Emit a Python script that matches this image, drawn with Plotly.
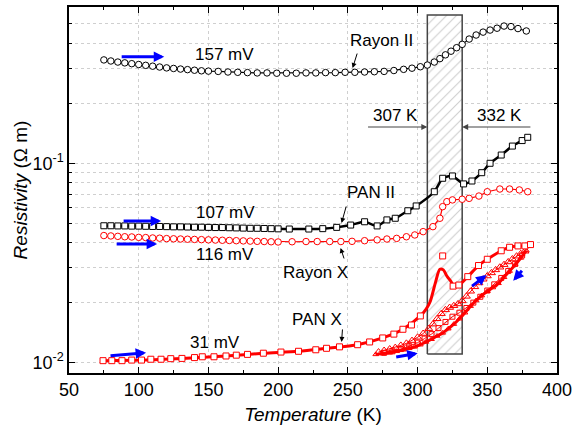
import plotly.graph_objects as go

# ---------------- data ----------------
rayon2_T = [75, 80, 85, 90, 95, 100, 105, 110, 115, 120, 125, 130, 135, 140, 145, 150, 157, 164, 171, 178,
            185, 192, 199, 206, 213, 220, 227, 234, 241, 248, 255, 262, 269, 276, 283, 290, 296, 302, 307,
            312, 316, 320, 324, 328, 332, 337, 342, 347, 352, 357, 362, 367, 372, 378]
rayon2_v = [0.330, 0.326, 0.322, 0.319, 0.316, 0.313, 0.310, 0.307, 0.304, 0.301, 0.299, 0.297, 0.295, 0.293,
            0.291, 0.290, 0.289, 0.287, 0.286, 0.285, 0.284, 0.284, 0.283, 0.283, 0.283, 0.284, 0.284, 0.285,
            0.285, 0.286, 0.286, 0.287, 0.288, 0.289, 0.292, 0.296, 0.300, 0.305, 0.311, 0.322, 0.335, 0.350,
            0.365, 0.380, 0.395, 0.420, 0.440, 0.455, 0.466, 0.476, 0.488, 0.485, 0.474, 0.461]

pan2_T = [75, 80, 85, 90, 95, 100, 105, 110, 115, 120, 125, 130, 135, 140, 145, 150, 155, 160, 165, 170,
          175, 180, 185, 190, 195, 200, 208, 222, 232, 242, 252, 262, 271, 278, 284, 293, 299, 312, 318,
          325, 333, 339, 346, 352, 360, 368, 375, 379]
pan2_v = [0.0486, 0.0486, 0.0485, 0.0485, 0.0484, 0.0484, 0.0483, 0.0482, 0.0482, 0.0481, 0.0480, 0.0480,
          0.0479, 0.0478, 0.0478, 0.0477, 0.0476, 0.0476, 0.0475, 0.0474, 0.0473, 0.0472, 0.0472, 0.0471,
          0.0470, 0.0469, 0.0468, 0.0468, 0.0470, 0.0477, 0.0490, 0.0509, 0.0485, 0.0520, 0.0530, 0.0578,
          0.0611, 0.0720, 0.0841, 0.0864, 0.0788, 0.0815, 0.0897, 0.100, 0.110, 0.122, 0.130, 0.135]

rayonx_T = [75, 80, 85, 90, 95, 100, 105, 110, 115, 120, 125, 130, 135, 140, 145, 150, 155, 160, 165, 170,
            175, 180, 185, 190, 195, 200, 210, 220, 228, 237, 245, 253, 262, 271, 278, 285, 292, 298, 304,
            311, 316, 318, 321, 325, 332, 337, 344, 350, 359, 366, 373, 379]
rayonx_v = [0.0434, 0.0432, 0.0430, 0.0428, 0.0427, 0.0425, 0.0424, 0.0422, 0.0421, 0.0419, 0.0418, 0.0417,
            0.0416, 0.0415, 0.0414, 0.0413, 0.0412, 0.0411, 0.0410, 0.0409, 0.0408, 0.0407, 0.0406, 0.0405,
            0.0404, 0.0403, 0.0404, 0.0405, 0.0405, 0.0405, 0.0405, 0.0406, 0.0409, 0.0413, 0.0417, 0.0420,
            0.0428, 0.0437, 0.0454, 0.0481, 0.0530, 0.0606, 0.0642, 0.0655, 0.0660, 0.0667, 0.0685, 0.0720,
            0.0743, 0.0743, 0.0735, 0.0720]

panx_T = [74.4, 80.7, 88, 95, 102, 108.7, 116, 123, 131, 140, 145.6, 154, 162.6, 170, 178, 189.4, 202,
          214.6, 227, 234.7, 244, 257, 265.6, 275, 283, 289.5, 295.6, 302, 318, 325.5, 329.6, 336, 343.7,
          350, 360, 366, 372, 377, 381]
panx_v = [0.01023, 0.01023, 0.01023, 0.0103, 0.0103, 0.0104, 0.0104, 0.01047, 0.0105, 0.0106, 0.0107,
          0.0107, 0.0108, 0.0109, 0.0110, 0.01115, 0.0113, 0.0114, 0.0116, 0.0118, 0.0120, 0.0123, 0.0127,
          0.0133, 0.0139, 0.0147, 0.01545, 0.01715, 0.0343, 0.0242, 0.0245, 0.0270, 0.0307, 0.0330, 0.0364,
          0.0379, 0.0385, 0.0385, 0.0391]

# smoothed PAN X curve (thick line)
panx_curve_T = [74.4, 102, 131, 162.6, 189.4, 214.6, 234.7, 257, 275, 289.5, 302, 306, 309, 313, 316,
                318.5, 321, 324, 326, 329.6, 336, 343.7, 350, 360, 366, 372, 377, 381]
panx_curve_v = [0.01023, 0.0103, 0.0105, 0.0108, 0.01115, 0.0114, 0.0118, 0.0123, 0.0133, 0.0147, 0.01715,
                0.0185, 0.0202, 0.0255, 0.0294, 0.0292, 0.0272, 0.0255, 0.0243, 0.0245, 0.0270, 0.0307,
                0.0330, 0.0364, 0.0379, 0.0385, 0.0385, 0.0391]

# hysteresis loops (PAN X, 270-378 K)
loop_up_T = [272, 276, 280, 284, 288, 292, 296, 300, 304, 308, 311, 314, 317, 320, 323, 326, 329, 332, 335,
             338, 341, 344, 347, 350, 353, 356, 359, 362, 365, 368, 371, 374, 377]
loop_up_v = [0.0113, 0.0115, 0.0117, 0.0119, 0.0122, 0.0125, 0.0129, 0.0134, 0.0140, 0.0148, 0.0156, 0.0166,
             0.0176, 0.0184, 0.0189, 0.0193, 0.0197, 0.0204, 0.0215, 0.0228, 0.0240, 0.0251, 0.0262, 0.0272,
             0.0282, 0.0292, 0.0301, 0.0310, 0.0320, 0.0331, 0.0342, 0.0352, 0.0362]

loop_down_T = [378, 374, 370, 366, 362, 358, 354, 350, 346, 342, 338, 334, 330, 326, 322, 318, 314, 310, 306,
               302, 298, 294, 290, 285, 280, 275, 270]
loop_down_v = [0.0365, 0.0335, 0.0310, 0.0288, 0.0268, 0.0250, 0.0238, 0.0228, 0.0217, 0.0205, 0.0192,
               0.0178, 0.0166, 0.0156, 0.0148, 0.0141, 0.0136, 0.0131, 0.0127, 0.0123, 0.0120, 0.0118,
               0.0116, 0.0114, 0.0112, 0.0111, 0.0110]

loop_mid_T = [276, 282, 288, 294, 300, 305, 310, 315, 320, 325, 330, 335, 340, 345, 350, 355, 360, 365, 370, 375]
loop_mid_v = [0.0112, 0.0114, 0.0117, 0.0121, 0.0126, 0.0132, 0.0139, 0.0149, 0.0160, 0.0170, 0.0178,
              0.0188, 0.0200, 0.0214, 0.0230, 0.0247, 0.0266, 0.0288, 0.0313, 0.0345]

# transition window
window_T = [307, 332]
window_v = [0.01105, 0.555]

x_ticks = [50, 100, 150, 200, 250, 300, 350, 400]
y_ticks = [0.01, 0.1]
y_ticktext = ["10<sup>-2</sup>", "10<sup>-1</sup>"]
y_minor = [0.02, 0.03, 0.04, 0.05, 0.06, 0.07, 0.08, 0.09, 0.2, 0.3, 0.4, 0.5]

RED = "#ff0000"
BLACK = "#000000"
BLUE = "#0000ff"
FONT = "Liberation Sans"
GRID = "#cfcfcf"

fig = go.Figure()

# hatched window (drawn first, below data)
fig.add_trace(go.Scatter(
    x=[window_T[0], window_T[1], window_T[1], window_T[0], window_T[0]],
    y=[window_v[0], window_v[0], window_v[1], window_v[1], window_v[0]],
    mode="lines", fill="toself", fillcolor="white",
    fillpattern=dict(shape="/", fgcolor="#9a9a9a", bgcolor="white", size=7, solidity=0.15),
    line=dict(color="#444444", width=1.5), hoverinfo="skip", showlegend=False))

fig.add_trace(go.Scatter(x=rayon2_T, y=rayon2_v, mode="lines+markers",
                         line=dict(color=BLACK, width=1.2),
                         marker=dict(symbol="circle", size=6.5, color="white", line=dict(width=1, color=BLACK)),
                         showlegend=False))
fig.add_trace(go.Scatter(x=pan2_T, y=pan2_v, mode="lines+markers",
                         line=dict(color=BLACK, width=2.5, shape="spline", smoothing=0.6),
                         marker=dict(symbol="square", size=6, color="white", line=dict(width=1, color=BLACK)),
                         showlegend=False))
fig.add_trace(go.Scatter(x=rayonx_T, y=rayonx_v, mode="lines+markers",
                         line=dict(color=RED, width=1.2),
                         marker=dict(symbol="circle", size=6.5, color="white", line=dict(width=1, color=RED)),
                         showlegend=False))

# hysteresis loops
fig.add_trace(go.Scatter(x=loop_mid_T, y=loop_mid_v, mode="lines+markers",
                         line=dict(color=RED, width=1),
                         marker=dict(symbol="square-open", size=5, color=RED, line=dict(width=1)),
                         showlegend=False))
fig.add_trace(go.Scatter(x=loop_up_T, y=loop_up_v, mode="lines+markers",
                         line=dict(color=RED, width=1),
                         marker=dict(symbol="triangle-up-open", size=7, color=RED, line=dict(width=1)),
                         showlegend=False))
fig.add_trace(go.Scatter(x=loop_down_T, y=loop_down_v, mode="lines+markers",
                         line=dict(color=RED, width=3, shape="spline"),
                         marker=dict(symbol="triangle-up-open", size=5, color=RED, line=dict(width=1)),
                         showlegend=False))

fig.add_trace(go.Scatter(x=panx_curve_T, y=panx_curve_v, mode="lines",
                         line=dict(color=RED, width=3, shape="spline", smoothing=0.8),
                         showlegend=False))
fig.add_trace(go.Scatter(x=panx_T, y=panx_v, mode="markers",
                         marker=dict(symbol="square", size=6, color="white", line=dict(width=1, color=RED)),
                         showlegend=False))

# ---------------- annotations ----------------
ann = []


def label(text, x, ly):
    ann.append(dict(x=x, y=ly, xref="x", yref="y", text=text, showarrow=False,
                    font=dict(family=FONT, size=17, color="black")))


def arrow(x0, y0, x1, y1, color="black", width=1, head=2, size=1.0):
    ann.append(dict(x=x1, y=y1, ax=x0, ay=y0, xref="x", yref="y", axref="x", ayref="y",
                    text="", showarrow=True, arrowhead=head, arrowsize=size, arrowwidth=width,
                    arrowcolor=color, standoff=0, startstandoff=0))


label("157 mV", 161.4, -0.452)
label("Rayon II", 274.2, -0.382)
label("307 K", 284.3, -0.758)
label("332 K", 359.0, -0.758)
label("107 mV", 162.1, -1.249)
label("116 mV", 162.1, -1.460)
label("PAN II", 266.3, -1.149)
label("Rayon X", 226.8, -1.550)
label("PAN X", 228.2, -1.786)
label("31 mV", 154.9, -1.901)

arrow(257.0, -0.442, 253.4, -0.522)
arrow(249.1, -1.209, 245.5, -1.299)
arrow(247.6, -1.485, 244.8, -1.425)
arrow(246.2, -1.826, 245.5, -1.896)
arrow(263.4, -0.818, window_T[0], -0.818, color="#444444", width=1.2)
arrow(382.0, -0.818, window_T[1], -0.818, color="#444444", width=1.2)

# blue direction arrows
BA = dict(color=BLUE, width=3, head=2, size=0.7)
arrow(86.7, -0.465, 118.3, -0.465, **BA)
arrow(88.1, -1.289, 116.1, -1.289, **BA)
arrow(83.1, -1.405, 113.2, -1.405, **BA)
arrow(78.7, -1.966, 105.3, -1.950, **BA)
arrow(283.6, -1.973, 300.1, -1.953, **BA)
arrow(338.0, -1.622, 349.5, -1.560, **BA)
arrow(375.8, -1.532, 368.6, -1.589, **BA)

fig.update_layout(
    width=576, height=434,
    margin=dict(l=69, r=19, t=7, b=61, autoexpand=False),
    paper_bgcolor="white", plot_bgcolor="white",
    font=dict(family=FONT, size=18, color="black"),
    annotations=ann,
    showlegend=False,
)

fig.update_xaxes(
    range=[50, 400], tickmode="array", tickvals=x_ticks, automargin=False,
    ticks="inside", ticklen=6, tickwidth=1.2, tickcolor="black",
    showline=True, linecolor="black", linewidth=1.5, mirror="allticks",
    showgrid=True, gridcolor=GRID, griddash="dot", gridwidth=1,
    zeroline=False,
    minor=dict(dtick=25, ticks="inside", ticklen=3, tickcolor="black", showgrid=False),
    tickfont=dict(size=18),
    title=dict(text="<i>Temperature</i> (K)", font=dict(size=19), standoff=8),
)

fig.update_yaxes(
    type="log", range=[-2.052, -0.216], automargin=False,
    tickmode="array", tickvals=y_ticks, ticktext=y_ticktext,
    ticks="inside", ticklen=6, tickwidth=1.2, tickcolor="black",
    showline=True, linecolor="black", linewidth=1.5, mirror="allticks",
    showgrid=True, gridcolor=GRID, griddash="dot", gridwidth=1,
    zeroline=False,
    minor=dict(tickmode="array", tickvals=y_minor, ticks="inside", ticklen=3, tickcolor="black",
               showgrid=True, gridcolor=GRID, griddash="dot", gridwidth=1),
    tickfont=dict(size=18),
    title=dict(text="<i>Resistivity</i> (\u03a9 m)", font=dict(size=19), standoff=0),
)

fig.write_html("out.html", config={"displayModeBar": False},
               post_script="document.body.style.margin='0px';")
